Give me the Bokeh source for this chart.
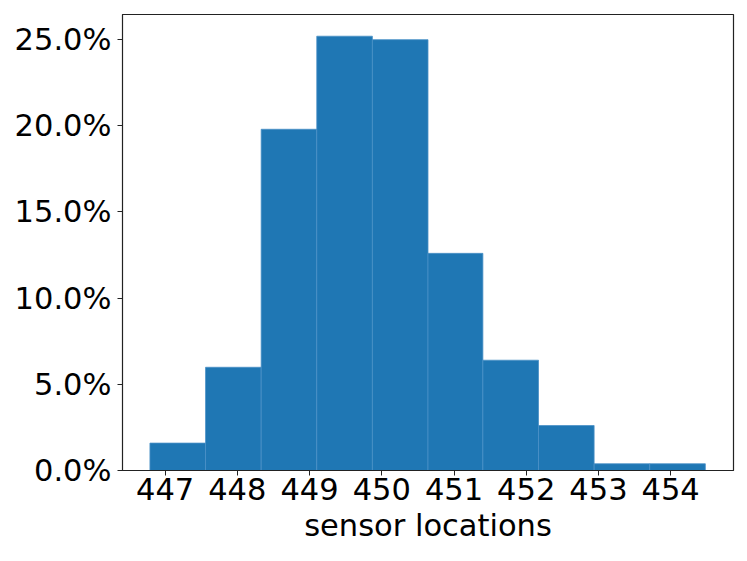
from bokeh.plotting import figure
from bokeh.models import FixedTicker, NumeralTickFormatter, Range1d
from bokeh.embed import file_html
from bokeh.resources import INLINE

# Histogram data
bin_edges = [446.79, 447.56, 448.33, 449.10, 449.87, 450.64, 451.40, 452.17, 452.94, 453.71, 454.48]
fractions = [0.0159, 0.0599, 0.198, 0.252, 0.250, 0.126, 0.0640, 0.0261, 0.0039, 0.0039]
x_ticks = [447, 448, 449, 450, 451, 452, 453, 454]
y_ticks = [0.0, 0.05, 0.10, 0.15, 0.20, 0.25]

FONT = "DejaVu Sans"
FS = "30.5px"

p = figure(width=739, height=545, output_backend="svg", toolbar_location=None,
           x_range=Range1d(446.41, 454.87), y_range=Range1d(0, 0.2646),
           min_border_left=122, min_border_right=6, min_border_top=14, min_border_bottom=74)

p.quad(left=bin_edges[:-1], right=bin_edges[1:], bottom=0, top=fractions,
       fill_color="#1f77b4", line_color="#4a90c6", line_width=0.8)

p.xgrid.visible = False
p.ygrid.visible = False
p.outline_line_color = "#222222"
p.outline_line_width = 1.2

p.xaxis.ticker = FixedTicker(ticks=x_ticks)
p.yaxis.ticker = FixedTicker(ticks=y_ticks)
p.yaxis.formatter = NumeralTickFormatter(format="0.0%")
p.xaxis.axis_label = "sensor locations"

for ax in (p.xaxis, p.yaxis):
    ax.major_label_text_font = FONT
    ax.major_label_text_font_size = FS
    ax.major_label_text_color = "black"
    ax.axis_label_text_font = FONT
    ax.axis_label_text_font_size = FS
    ax.axis_label_text_font_style = "normal"
    ax.axis_label_text_color = "black"
    ax.major_tick_in = 0
    ax.major_tick_out = 5
    ax.minor_tick_line_color = None
    ax.axis_line_color = "#222222"
    ax.major_tick_line_color = "#222222"
p.yaxis.major_label_standoff = 6
p.xaxis.major_label_standoff = 2
p.xaxis.axis_label_standoff = 5

open("out.html", "w").write(file_html(p, INLINE))
